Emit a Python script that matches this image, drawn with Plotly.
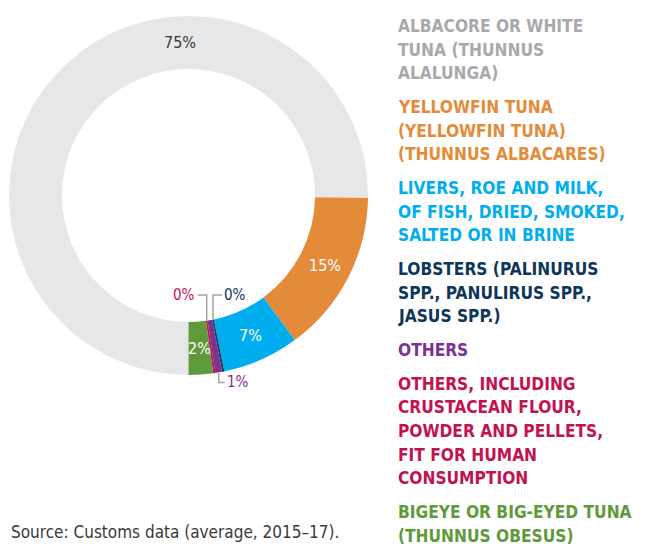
import math
import plotly.graph_objects as go

# ---------------- data ----------------
categories = [
    "Albacore or white tuna (Thunnus alalunga)",
    "Yellowfin tuna (Yellowfin tuna) (Thunnus albacares)",
    "Livers, roe and milk, of fish, dried, smoked, salted or in brine",
    "Lobsters (Palinurus spp., Panulirus spp., Jasus spp.)",
    "Others",
    "Others, including crustacean flour, powder and pellets, fit for human consumption",
    "Bigeye or big-eyed tuna (Thunnus obesus)",
]
values = [75.3, 14.7, 6.9, 0.2, 0.6, 0.2, 2.2]
legend_lines = [
    ["ALBACORE OR WHITE", "TUNA (THUNNUS", "ALALUNGA)"],
    ["YELLOWFIN TUNA", "(YELLOWFIN TUNA)", "(THUNNUS ALBACARES)"],
    ["LIVERS, ROE AND MILK,", "OF FISH, DRIED, SMOKED,", "SALTED OR IN BRINE"],
    ["LOBSTERS (PALINURUS", "SPP., PANULIRUS SPP.,", "JASUS SPP.)"],
    ["OTHERS"],
    ["OTHERS, INCLUDING", "CRUSTACEAN FLOUR,", "POWDER AND PELLETS,", "FIT FOR HUMAN", "CONSUMPTION"],
    ["BIGEYE OR BIG-EYED TUNA", "(THUNNUS OBESUS)"],
]
source_text = "Source: Customs data (average, 2015\u201317)."

# ---------------- style ----------------
slice_colors = ["#E6E7E8", "#E48B3A", "#00AEEF", "#103A5E", "#7B3294", "#C2124F", "#5F9A3A"]
text_colors = ["#A7A9AC", "#E48B3A", "#00AEEF", "#0E3658", "#7B3294", "#C2124F", "#5F9A3A"]
FONT = "DejaVu Sans Condensed, Liberation Sans Narrow, sans-serif"
PAGE_OFF = 8                    # default body margin of the html page
W, H = 645 - PAGE_OFF, 548 - PAGE_OFF
CX, CY, R = 188.5, 195.5, 179.5  # page pixels
HOLE = 0.705
RI = R * HOLE
ROTATION = 180

def X(px):
    return (px - PAGE_OFF) / W

def Y(py):
    return 1 - (py - PAGE_OFF) / H

fig = go.Figure(go.Pie(
    labels=categories,
    values=values,
    sort=False,
    direction="clockwise",
    rotation=ROTATION,
    hole=HOLE,
    marker=dict(colors=slice_colors, line=dict(width=0)),
    textinfo="none",
    hoverinfo="label+percent",
    showlegend=False,
    domain=dict(x=[X(CX - R), X(CX + R)], y=[Y(CY + R), Y(CY - R)]),
))

# slice geometry from the data
total = sum(values)
mid_angles = []
acc = ROTATION
for v in values:
    span = 360 * v / total
    mid_angles.append(acc + span / 2)
    acc += span
pct_text = [f"{100 * v / total:.0f}%" for v in values]

def polar(angle_deg, r):
    a = math.radians(angle_deg)
    return CX + r * math.sin(a), CY - r * math.cos(a)

annotations = []
shapes = []
RM = (R + RI) / 2

# inside labels
inside = {0: "#3A3A3A", 1: "white", 2: "white", 6: "white"}
for i, col in inside.items():
    ang = mid_angles[i] if i != 0 else 357  # big slice label placed at the top
    px, py = polar(ang, RM)
    annotations.append(dict(x=X(px), y=Y(py), xref="paper", yref="paper",
                            text=pct_text[i], showarrow=False,
                            font=dict(family=FONT, size=16, color=col),
                            xanchor="center", yanchor="middle"))

line_style = dict(color="#A3A3A3", width=1.5)
# small slices: callouts from inner edge (crust, lobsters) and outer edge (others)
elbow_y = CY + 0.787 * RI
for i, side in ((5, -1), (3, 1)):
    ax, ay = polar(mid_angles[i], RI)
    ex = ax + side * 9
    shapes.append(dict(type="path", xref="paper", yref="paper",
                       path=f"M {X(ax)} {Y(ay)} L {X(ax)} {Y(elbow_y)} L {X(ex)} {Y(elbow_y)}",
                       line=line_style))
    annotations.append(dict(x=X(ex + side * 1.5), y=Y(elbow_y), xref="paper", yref="paper",
                            text=pct_text[i], showarrow=False,
                            font=dict(family=FONT, size=15, color=text_colors[i]),
                            xanchor="right" if side < 0 else "left", yanchor="middle",
                            borderpad=0))
i = 4
ax, ay = polar(mid_angles[i], R)
ey = ay + 10
ex = ax + 6
shapes.append(dict(type="path", xref="paper", yref="paper",
                   path=f"M {X(ax)} {Y(ay)} L {X(ax)} {Y(ey)} L {X(ex)} {Y(ey)}",
                   line=line_style))
annotations.append(dict(x=X(ex + 1.5), y=Y(ey), xref="paper", yref="paper",
                        text=pct_text[i], showarrow=False,
                        font=dict(family=FONT, size=15, color=text_colors[i]),
                        xanchor="left", yanchor="middle", borderpad=0))

# legend as coloured text blocks
LX = 397
LINE = 23.6
GAP = 10.2
y = 26
for lines, col in zip(legend_lines, text_colors):
    for ln in lines:
        annotations.append(dict(x=X(LX), y=Y(y), xref="paper", yref="paper",
                                text=f"<b>{ln}</b>", showarrow=False,
                                font=dict(family=FONT, size=17.2, color=col),
                                xanchor="left", yanchor="middle", borderpad=0))
        y += LINE
    y += GAP

annotations.append(dict(x=X(10), y=Y(532), xref="paper", yref="paper",
                        text=source_text, showarrow=False,
                        font=dict(family=FONT, size=17, color="#3A3A3A"),
                        xanchor="left", yanchor="middle", borderpad=0))

fig.update_layout(
    width=W, height=H,
    margin=dict(l=0, r=0, t=0, b=0),
    paper_bgcolor="white", plot_bgcolor="white",
    annotations=annotations, shapes=shapes,
)
fig.write_html("out.html")
